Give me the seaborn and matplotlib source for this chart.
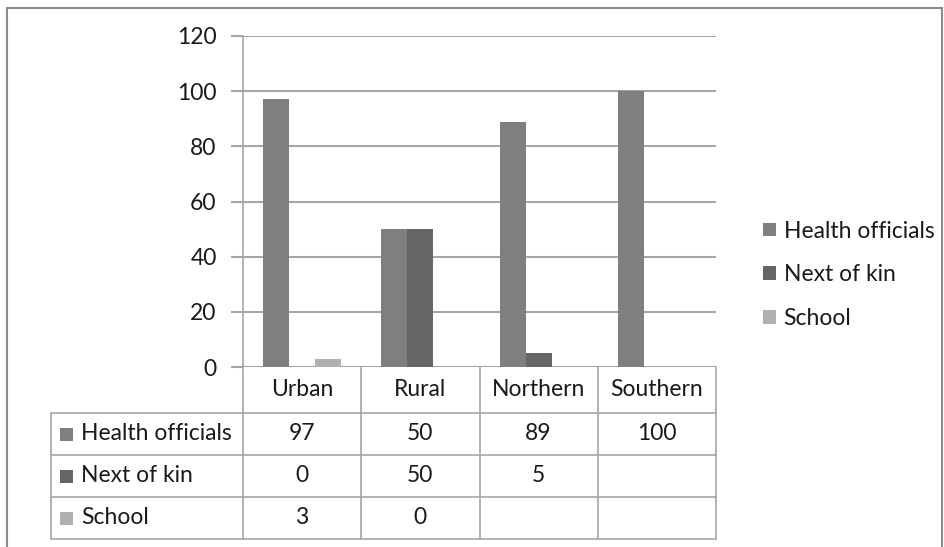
import numpy as np
import pandas as pd
import matplotlib
matplotlib.use('Agg')
import matplotlib.pyplot as plt
import seaborn as sns
from matplotlib.patches import Rectangle

# ==================== data ====================
regions = ['Urban', 'Rural', 'Northern', 'Southern']
series = ['Health officials', 'Next of kin', 'School']
health_officials = [97, 50, 89, 100]
next_of_kin = [0, 50, 5, np.nan]
school = [3, 0, np.nan, np.nan]
colors = ['#7f7f7f', '#666666', '#b0b0b0']

values = [health_officials, next_of_kin, school]
df = pd.DataFrame({
    'region': regions * 3,
    'source': np.repeat(series, len(regions)),
    'value': health_officials + next_of_kin + school,
})

# ==================== style ====================
sns.set_style('white')
plt.rcParams['font.family'] = ['Lato', 'DejaVu Sans']
FS = 16.5
GRID = '#a6a6a6'
TXT = '#1a1a1a'

W, H = 944, 547
fig = plt.figure(figsize=(W / 100, H / 100), dpi=100)

# outer frame like the Excel chart area
fig.add_artist(Rectangle((7 / W, -0.05), 935 / W, 1.05 - 8 / H,
                         transform=fig.transFigure, fill=False,
                         edgecolor='#8c8c8c', linewidth=1.5))

# ==================== bar chart ====================
x0, x1 = 243 / W, 716 / W
y0, y1 = 1 - 367 / H, 1 - 36 / H
ax = fig.add_axes([x0, y0, x1 - x0, y1 - y0])

sns.barplot(data=df, x='region', y='value', hue='source',
            order=regions, hue_order=series, palette=colors,
            width=0.66, saturation=1, linewidth=0, ax=ax)

ax.set_ylim(0, 120)
ax.set_yticks(range(0, 121, 20))
ax.set_xlim(-0.5, len(regions) - 0.5)
ax.yaxis.grid(True, color=GRID, linewidth=1.5)
ax.set_axisbelow(True)
for s in ['top', 'right', 'bottom']:
    ax.spines[s].set_visible(False)
ax.spines['left'].set_color(GRID)
ax.spines['left'].set_linewidth(1.2)
ax.tick_params(axis='y', left=True, length=9, width=1.5, color=GRID,
               labelsize=FS, pad=10, labelcolor=TXT)
ax.set_xticks([])
ax.set_xlabel('')
ax.set_ylabel('')

# legend on the right
leg = ax.legend(loc='center left', bbox_to_anchor=(1.08, 0.278), frameon=False,
                fontsize=FS, handlelength=0.55, handleheight=0.55,
                handletextpad=0.35, labelspacing=1.0, borderaxespad=0)
for t in leg.get_texts():
    t.set_color(TXT)

# ==================== data table (own axes, pixel-like units) ====================
lab_w = 192
col_w = (716 - 243) / len(regions)
head_h = 46
row_h = 42
tab_w = lab_w + col_w * len(regions)
tab_h = head_h + row_h * len(series)
tax = fig.add_axes([51 / W, 1 - (367 + tab_h) / H, tab_w / W, tab_h / H])
tax.set_xlim(0, tab_w)
tax.set_ylim(tab_h, 0)
tax.axis('off')

xs = [lab_w + col_w * j for j in range(len(regions) + 1)]
ys = [0, head_h] + [head_h + row_h * i for i in range(1, len(series) + 1)]
lk = dict(color=GRID, linewidth=1.2, clip_on=False)
for x in xs:
    tax.plot([x, x], [0, tab_h], **lk)
tax.plot([0, 0], [head_h, tab_h], **lk)
for y in ys[1:]:
    tax.plot([0, tab_w], [y, y], **lk)

for j, r in enumerate(regions):
    tax.text(xs[j] + col_w / 2, head_h / 2, r, ha='center', va='center',
             fontsize=FS, color=TXT)
for i, (name, vals, col) in enumerate(zip(series, values, colors)):
    yc = (ys[i + 1] + ys[i + 2]) / 2
    tax.add_patch(Rectangle((9, yc - 6.5), 13, 13, facecolor=col, edgecolor='none'))
    tax.text(30, yc, name, ha='left', va='center', fontsize=FS, color=TXT)
    for j, v in enumerate(vals):
        if pd.isna(v):
            continue
        tax.text(xs[j] + col_w / 2, yc, f'{v:g}', ha='center', va='center',
                 fontsize=FS, color=TXT)

plt.savefig('out.png', dpi=100)
